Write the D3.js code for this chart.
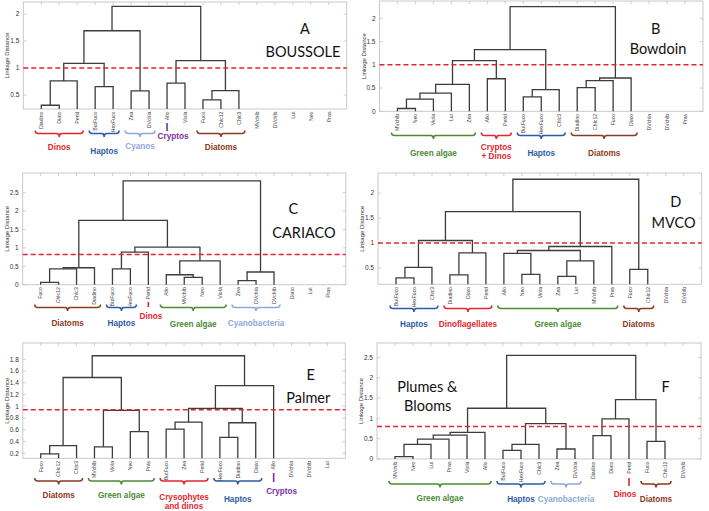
<!DOCTYPE html>
<html><head><meta charset="utf-8">
<script src="https://cdn.jsdelivr.net/npm/d3@7"></script>
<style>
html,body{margin:0;padding:0;background:#fff;}
svg{display:block;font-family:"Liberation Sans",Arial,sans-serif;}
</style></head>
<body><svg id="chart" width="709" height="511"></svg>
<script>
// ---------------- DATA ----------------
// merges: [childA, childB, height]; string = leaf name, number = index of earlier merge
const leavesA = ["Diadino","Diato","Perid","ButFuco","HexFuco","Zea","DVchla","Allo","Viola","Fuco","Chlc12","Chlc3","MVchlb","DVchlb","Lut","Neo","Pras"];
const mergesA = [["Diadino","Diato",0.31],[0,"Perid",0.76],["ButFuco","HexFuco",0.655],[1,2,1.085],["Zea","DVchla",0.575],[3,4,1.69],["Allo","Viola",0.72],["Fuco","Chlc12",0.41],[7,"Chlc3",0.58],[6,8,1.135],[5,9,2.14]];
const groupsA = [["Dinos","Diadino","Perid"],["Haptos","ButFuco","HexFuco"],["Cyanos","Zea","DVchla"],["Cryptos","Allo","Allo"],["Diatoms","Fuco","Chlc3"]];
const ticksA = [0.5,1,1.5,2];
const cutA = 1.0;

const leavesB = ["MVchlb","Neo","Viola","Lut","Zea","Allo","Perid","ButFuco","HexFuco","Chlc3","Diadino","Chlc12","Fuco","Diato","DVchla","DVchlb","Pras"];
const mergesB = [["MVchlb","Neo",0.06],[0,"Viola",0.26],[1,"Lut",0.39],[2,"Zea",0.58],["Allo","Perid",0.70],[3,4,1.09],["ButFuco","HexFuco",0.31],[6,"Chlc3",0.465],[5,7,1.325],["Diadino","Chlc12",0.51],[9,"Fuco",0.66],[10,"Diato",0.716],[8,11,2.25]];
const groupsB = [["Green algae","MVchlb","Zea"],["Cryptos\n+ Dinos","Allo","Perid"],["Haptos","ButFuco","Chlc3"],["Diatoms","Diadino","Diato"]];
const ticksB = [0,0.5,1,1.5,2];
const cutB = 1.0;

const leavesC = ["Fuco","Chlc12","Chlc3","Diadino","ButFuco","HexFuco","Perid","Allo","MVchlb","Neo","Viola","Zea","DVchla","DVchlb","Diato","Lut","Pras"];
const mergesC = [["Fuco","Chlc12",0.065],[0,"Chlc3",0.43],[1,"Diadino",0.46],["ButFuco","HexFuco",0.43],[3,"Perid",0.885],["MVchlb","Neo",0.20],["Allo",5,0.27],[6,"Viola",0.65],[4,7,1.02],[2,8,1.75],["Zea","DVchla",0.11],[10,"DVchlb",0.345],[9,11,2.82]];
const groupsC = [["Diatoms","Fuco","Diadino"],["Haptos","ButFuco","HexFuco"],["Dinos","Perid","Perid"],["Green algae","Allo","Viola"],["Cyanobacteria","Zea","DVchlb"]];
const ticksC = [0,0.5,1,1.5,2,2.5];
const cutC = 0.82;

const leavesD = ["ButFuco","HexFuco","Chlc3","Diadino","Diato","Perid","Allo","Neo","Viola","Zea","Lut","MVchlb","Pras","Fuco","Chlc12","DVchla","DVchlb"];
const mergesD = [["ButFuco","HexFuco",0.30],[0,"Chlc3",0.51],["Diadino","Diato",0.36],[2,"Perid",0.80],[1,3,1.05],["Neo","Viola",0.37],["Allo",5,0.79],["Zea","Lut",0.33],[7,"MVchlb",0.64],[6,8,0.85],[9,"Pras",0.93],[4,10,1.63],["Fuco","Chlc12",0.47],[11,12,2.28]];
const groupsD = [["Haptos","ButFuco","Chlc3"],["Dinoflagellates","Diadino","Perid"],["Green algae","Allo","Pras"],["Diatoms","Fuco","Chlc12"]];
const ticksD = [0.5,1,1.5,2];
const cutD = 1.0;

const leavesE = ["Fuco","Chlc12","Chlc3","MVchlb","Viola","Neo","Pras","ButFuco","Zea","Perid","HexFuco","Diadino","Diato","Allo","DVchla","DVchlb","Lut"];
const mergesE = [["Fuco","Chlc12",0.19],[0,"Chlc3",0.33],["MVchlb","Viola",0.31],["Neo","Pras",0.57],[2,3,0.93],[1,4,1.49],["ButFuco","Zea",0.61],[6,"Perid",0.73],["HexFuco","Diadino",0.47],[8,"Diato",0.72],[7,9,0.965],[10,"Allo",1.35],[5,11,1.86]];
const groupsE = [["Diatoms","Fuco","Chlc3"],["Green algae","MVchlb","Pras"],["Crysophytes\nand dinos","ButFuco","Perid"],["Haptos","HexFuco","Diato"],["Cryptos","Allo","Allo"]];
const ticksE = [0.2,0.4,0.6,0.8,1,1.2,1.4,1.6,1.8];
const cutE = 0.94;

const leavesF = ["MVchlb","Neo","Lut","Pras","Viola","Allo","ButFuco","HexFuco","Chlc3","Zea","DVchla","Diadino","Diato","Perid","Fuco","Chlc12","DVchlb"];
const mergesF = [["MVchlb","Neo",0.057],[0,"Lut",0.36],[1,"Pras",0.49],[2,"Viola",0.59],[3,"Allo",0.655],["ButFuco","HexFuco",0.21],[5,"Chlc3",0.36],["Zea","DVchla",0.246],[6,7,0.87],[4,8,1.25],["Diadino","Diato",0.575],[10,"Perid",0.99],["Fuco","Chlc12",0.435],[11,12,1.46],[9,13,2.55]];
const groupsF = [["Green algae","MVchlb","Allo"],["Haptos","ButFuco","Chlc3"],["Cyanobacteria","Zea","DVchla"],["Dinos","Perid","Perid"],["Diatoms","Fuco","Chlc12"]];
const ticksF = [0,0.5,1,1.5,2,2.5];
const cutF = 0.8;

const titlesA = ["A","BOUSSOLE"], titlesB = ["B","Bowdoin"], titlesC = ["C","CARIACO"],
      titlesD = ["D","MVCO"], titlesE = ["E","Palmer"], titlesF = ["Plumes &","Blooms","F"];

// ---------------- STYLE / LAYOUT ----------------
const groupColor = {
  "Dinos":"#e3262d","Cryptos\n+ Dinos":"#e3262d","Dinoflagellates":"#e3262d","Crysophytes\nand dinos":"#e3262d",
  "Haptos":"#2d5ba8","Cyanos":"#8ea8d8","Cyanobacteria":"#8ea8d8","Cryptos":"#7a2fa3",
  "Diatoms":"#8c3a20","Green algae":"#4b8a33"
};
const layout = {
  A:{left:23.3,right:346.7,top:2,bottom:109,vb:0.2407,vt:2.222,braceY:133.5,labY:[146.7,150.7,145.7,136.5,147],labDx:[0,0,0,6,0],tick:[123,131],
     titles:[[305,28.5],[303,51.7]]},
  B:{left:379.5,right:703,top:1,bottom:111.3,vb:0,vt:2.372,braceY:135.5,labY:[152.7,146.7,152.7,152.7],labDx:[0,0,0,0],
     titles:[[655.7,28.5],[658,48.5]]},
  C:{left:22.7,right:345.8,top:173,bottom:284.7,vb:0,vt:3.035,braceY:307.5,labY:[323.3,323.3,315.7,323.7,323],labDx:[0,0,2.5,0,0],tick:[302,307],
     titles:[[293.3,209],[304,232.7]]},
  D:{left:378,right:701.7,top:173,bottom:284.3,vb:0.1707,vt:2.406,braceY:308.5,labY:[324,324,324,324],labDx:[0,0,0,0],
     titles:[[675.7,201.7],[673.5,223.3]]},
  E:{left:22.8,right:345.3,top:343,bottom:458.3,vb:0.115,vt:2.077,braceY:481,labY:[495,495,496.7,499.3,490.7],labDx:[0,0,0,0,8],tick:[473,482],
     titles:[[310.7,375],[308.3,398.3]]},
  F:{left:377,right:701,top:343,bottom:459,vb:0,vt:2.857,braceY:484,labY:[497.7,499.3,499.3,494.3,499.3],labDx:[0,0,0,-4,0],tick:[478,486],
     titles:[[427.3,386.7],[427.7,406],[665.7,386.7]]}
};

const panels = [
  {key:"A",leaves:leavesA,merges:mergesA,groups:groupsA,ticks:ticksA,cut:cutA,titles:titlesA},
  {key:"B",leaves:leavesB,merges:mergesB,groups:groupsB,ticks:ticksB,cut:cutB,titles:titlesB},
  {key:"C",leaves:leavesC,merges:mergesC,groups:groupsC,ticks:ticksC,cut:cutC,titles:titlesC},
  {key:"D",leaves:leavesD,merges:mergesD,groups:groupsD,ticks:ticksD,cut:cutD,titles:titlesD},
  {key:"E",leaves:leavesE,merges:mergesE,groups:groupsE,ticks:ticksE,cut:cutE,titles:titlesE},
  {key:"F",leaves:leavesF,merges:mergesF,groups:groupsF,ticks:ticksF,cut:cutF,titles:titlesF}
];

const svg = d3.select("#chart");
const lineColor = "#3c3c3c", frameColor = "#c4c4c4";

panels.forEach(p => {
  const L = layout[p.key];
  const g = svg.append("g");
  const n = p.leaves.length;
  const x = d3.scaleLinear().domain([0, n + 1]).range([L.left, L.right]);
  const y = d3.scaleLinear().domain([L.vb, L.vt]).range([L.bottom, L.top]);
  const leafX = name => x(p.leaves.indexOf(name) + 1);

  // frame
  g.append("rect").attr("x",L.left).attr("y",L.top).attr("width",L.right-L.left).attr("height",L.bottom-L.top)
    .attr("fill","none").attr("stroke",frameColor).attr("stroke-width",0.9);
  p.leaves.forEach((_,i)=>{
    g.append("line").attr("x1",x(i+1)).attr("x2",x(i+1)).attr("y1",L.top).attr("y2",L.top+3)
      .attr("stroke",frameColor).attr("stroke-width",0.8);
  });
  p.ticks.forEach(t=>{
    g.append("line").attr("x1",L.left).attr("x2",L.left+3).attr("y1",y(t)).attr("y2",y(t)).attr("stroke",frameColor).attr("stroke-width",0.8);
    g.append("line").attr("x1",L.right).attr("x2",L.right-3).attr("y1",y(t)).attr("y2",y(t)).attr("stroke",frameColor).attr("stroke-width",0.8);
    g.append("text").attr("x",L.left-4).attr("y",y(t)).attr("dy","0.35em").attr("text-anchor","end")
      .attr("font-size","6.5px").attr("fill","#333").text(d3.format("~g")(t));
  });
  g.append("text").attr("transform",`translate(${L.left-16},${(L.top+L.bottom)/2}) rotate(-90)`)
    .attr("text-anchor","middle").attr("dy","0.35em").attr("font-size","6px").attr("fill","#333").text("Linkage Distance");

  // dendrogram
  const pos = [];
  const get = c => typeof c === "number" ? pos[c] : [leafX(c), L.vb];
  p.merges.forEach(m => {
    const a = get(m[0]), b = get(m[1]), h = m[2];
    const ya = Math.min(y(a[1]), L.bottom), yb = Math.min(y(b[1]), L.bottom);
    g.append("path")
      .attr("d", `M${a[0]},${ya}V${y(h)}H${b[0]}V${yb}`)
      .attr("fill","none").attr("stroke",lineColor).attr("stroke-width",1.3);
    pos.push([(a[0]+b[0])/2, h]);
  });

  // cut-off line
  g.append("line").attr("x1",L.left).attr("x2",L.right).attr("y1",y(p.cut)).attr("y2",y(p.cut))
    .attr("stroke","#e3262d").attr("stroke-width",1.5).attr("stroke-dasharray","5,3");

  // leaf labels
  p.leaves.forEach((name,i)=>{
    g.append("text").attr("transform",`translate(${x(i+1)},${L.bottom+2.5}) rotate(-90)`)
      .attr("text-anchor","end").attr("dy","0.35em").attr("font-size","5.2px").attr("fill","#444").text(name);
  });

  // groups
  p.groups.forEach((gr,i)=>{
    const col = groupColor[gr[0]];
    const x0 = leafX(gr[1]), x1 = leafX(gr[2]);
    let cx;
    if (gr[1] === gr[2]) {
      cx = x0;
      g.append("line").attr("x1",x0).attr("x2",x0).attr("y1",L.tick[0]).attr("y2",L.tick[1])
        .attr("stroke",col).attr("stroke-width",1.6);
    } else {
      const a = x0 - 6, b = x1 + 6, yy = L.braceY; cx = (a + b) / 2;
      g.append("path").attr("d",
        `M${a},${yy-3}Q${a},${yy} ${a+3},${yy}H${cx-2.5}Q${cx},${yy} ${cx},${yy+3.5}Q${cx},${yy} ${cx+2.5},${yy}H${b-3}Q${b},${yy} ${b},${yy-3}`)
        .attr("fill","none").attr("stroke",col).attr("stroke-width",1.5);
    }
    const lines = gr[0].split("\n");
    const t = g.append("text").attr("x",cx + L.labDx[i]).attr("y",L.labY[i]).attr("text-anchor","middle")
      .attr("font-size","8.2px").attr("font-weight","bold").attr("fill",col);
    lines.forEach((ln,k)=>{
      t.append("tspan").attr("x",cx + L.labDx[i]).attr("dy", k===0 ? "0.35em" : "1.15em").text(ln);
    });
  });

  // titles
  p.titles.forEach((tt,i)=>{
    g.append("text").attr("x",L.titles[i][0]).attr("y",L.titles[i][1]).attr("dy","0.35em").attr("text-anchor","middle")
      .attr("font-family","Lato, 'Open Sans', sans-serif").attr("font-size","14.5px").attr("fill","#111").text(tt);
  });
});
</script></body></html>
